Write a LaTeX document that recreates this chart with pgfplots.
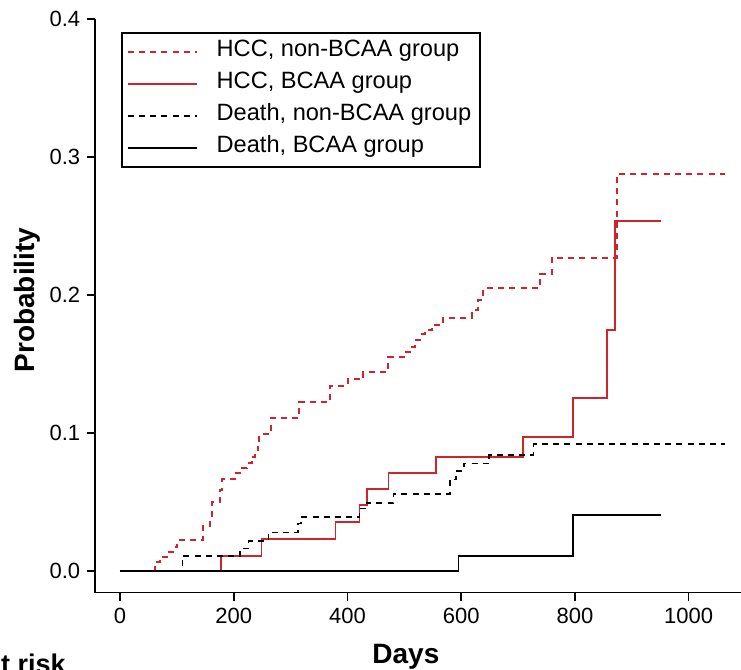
\documentclass[border=0pt]{standalone}
\usepackage{fontspec}
\setmainfont{Liberation Sans}
\usepackage{pgfplots}
\pgfplotsset{compat=1.18}

\definecolor{hccred}{RGB}{208,36,44}

\begin{document}
\begin{tikzpicture}
\begin{axis}[
  scale only axis,
  width=322.85pt, height=286.85pt,
  xmin=-43.4, xmax=1092,
  ymin=-0.0157, ymax=0.4,
  enlargelimits=false,
  axis x line=bottom, axis y line=left,
  axis line style={-, line width=0.8pt, black},
  tick align=outside,
  major tick length=4pt,
  tick style={black, line width=0.8pt},
  xtick={0,200,400,600,800,1000},
  ytick={0,0.1,0.2,0.3,0.4},
  /pgf/number format/assume math mode=true,
  tick label style={font=\fontsize{11}{13}\selectfont},
  yticklabel style={/pgf/number format/.cd, fixed, fixed zerofill, precision=1},
  xticklabel style={/pgf/number format/.cd, set thousands separator={}},
  xlabel={Days}, ylabel={Probability},
  label style={font=\bfseries\fontsize{14}{16}\selectfont},
  xlabel style={at={(axis description cs:0.481,-0.112)}, anchor=center},
  ylabel style={at={(axis description cs:-0.106,0.51)}, anchor=center},
  legend style={at={(axis description cs:0.0398,0.977)}, anchor=north west,
    draw=black, line width=0.8pt, inner sep=2.5pt, row sep=2pt, column sep=7.5pt,
    font=\fontsize{11.8}{14}\selectfont,
    nodes={inner sep=2pt, text height=0.75em, text depth=0.25em}},
  legend cell align=left,
  legend image code/.code={\draw[#1] (0pt,0pt) -- (34.5pt,0pt);},
]
% HCC, non-BCAA group
\addplot[const plot, hccred, line width=0.95pt, dash pattern=on 3pt off 2.6pt] coordinates {
(0,0) (61.5,0.0063) (70.3,0.0099) (86.2,0.0135) (93.8,0.0172) (100.8,0.0225)
(146,0.0328) (158.3,0.0370) (161.2,0.0498) (175.8,0.0587) (178.8,0.0664)
(202,0.0708) (211,0.0744) (222.8,0.0780) (231.5,0.0828) (237.4,0.0877)
(243.3,0.0925) (245,0.0993) (265,0.1106) (314.8,0.1222) (369.3,0.1341)
(395.6,0.1360) (401.5,0.1389) (427.9,0.1440) (471.9,0.1549) (499.4,0.1589)
(509.9,0.1625) (518.7,0.1674) (527.5,0.1717) (536.3,0.1746) (548,0.1783)
(568.6,0.1836) (618.4,0.1891) (630,0.1964) (638.9,0.2048) (738.5,0.2152)
(759,0.2270) (873.4,0.2877) (1063.8,0.2877)
};
% HCC, BCAA group
\addplot[const plot, hccred, line width=0.9pt] coordinates {
(0,0) (177,0.0111) (249,0.0234) (379,0.0355) (421,0.0478) (435,0.0594)
(472,0.0708) (556,0.0828) (709,0.0969) (797,0.1256) (856,0.1746)
(870,0.2536) (951,0.2536)
};
% Death, non-BCAA group
\addplot[const plot, black, line width=0.85pt, dash pattern=on 3pt off 2.6pt] coordinates {
(0,0) (110,0.0109) (211,0.0164) (226,0.0217) (261,0.0280) (313,0.0345)
(318,0.0389) (421,0.0454) (434,0.0495) (481,0.0558) (580,0.0664)
(591,0.0727) (605,0.0780) (649,0.0841) (727,0.0918) (1064,0.0918)
};
% Death, BCAA group
\addplot[const plot, black, line width=0.8pt] coordinates {
(0,0) (595,0.0111) (797,0.0406) (951,0.0406)
};
\legend{HCC{,} non-BCAA group, HCC{,} BCAA group, Death{,} non-BCAA group, Death{,} BCAA group}
\end{axis}
\node[anchor=north east, inner sep=0pt, font=\bfseries\fontsize{13.5}{16}\selectfont]
  at ([xshift=-14.6pt,yshift=-30.5pt]current axis.south west) {Number at risk};
\pgfresetboundingbox
\path[use as bounding box] ([xshift=-47.65pt,yshift=-38.65pt]current axis.south west)
  rectangle ([yshift=9.5pt]current axis.north east);
\end{tikzpicture}
\end{document}
